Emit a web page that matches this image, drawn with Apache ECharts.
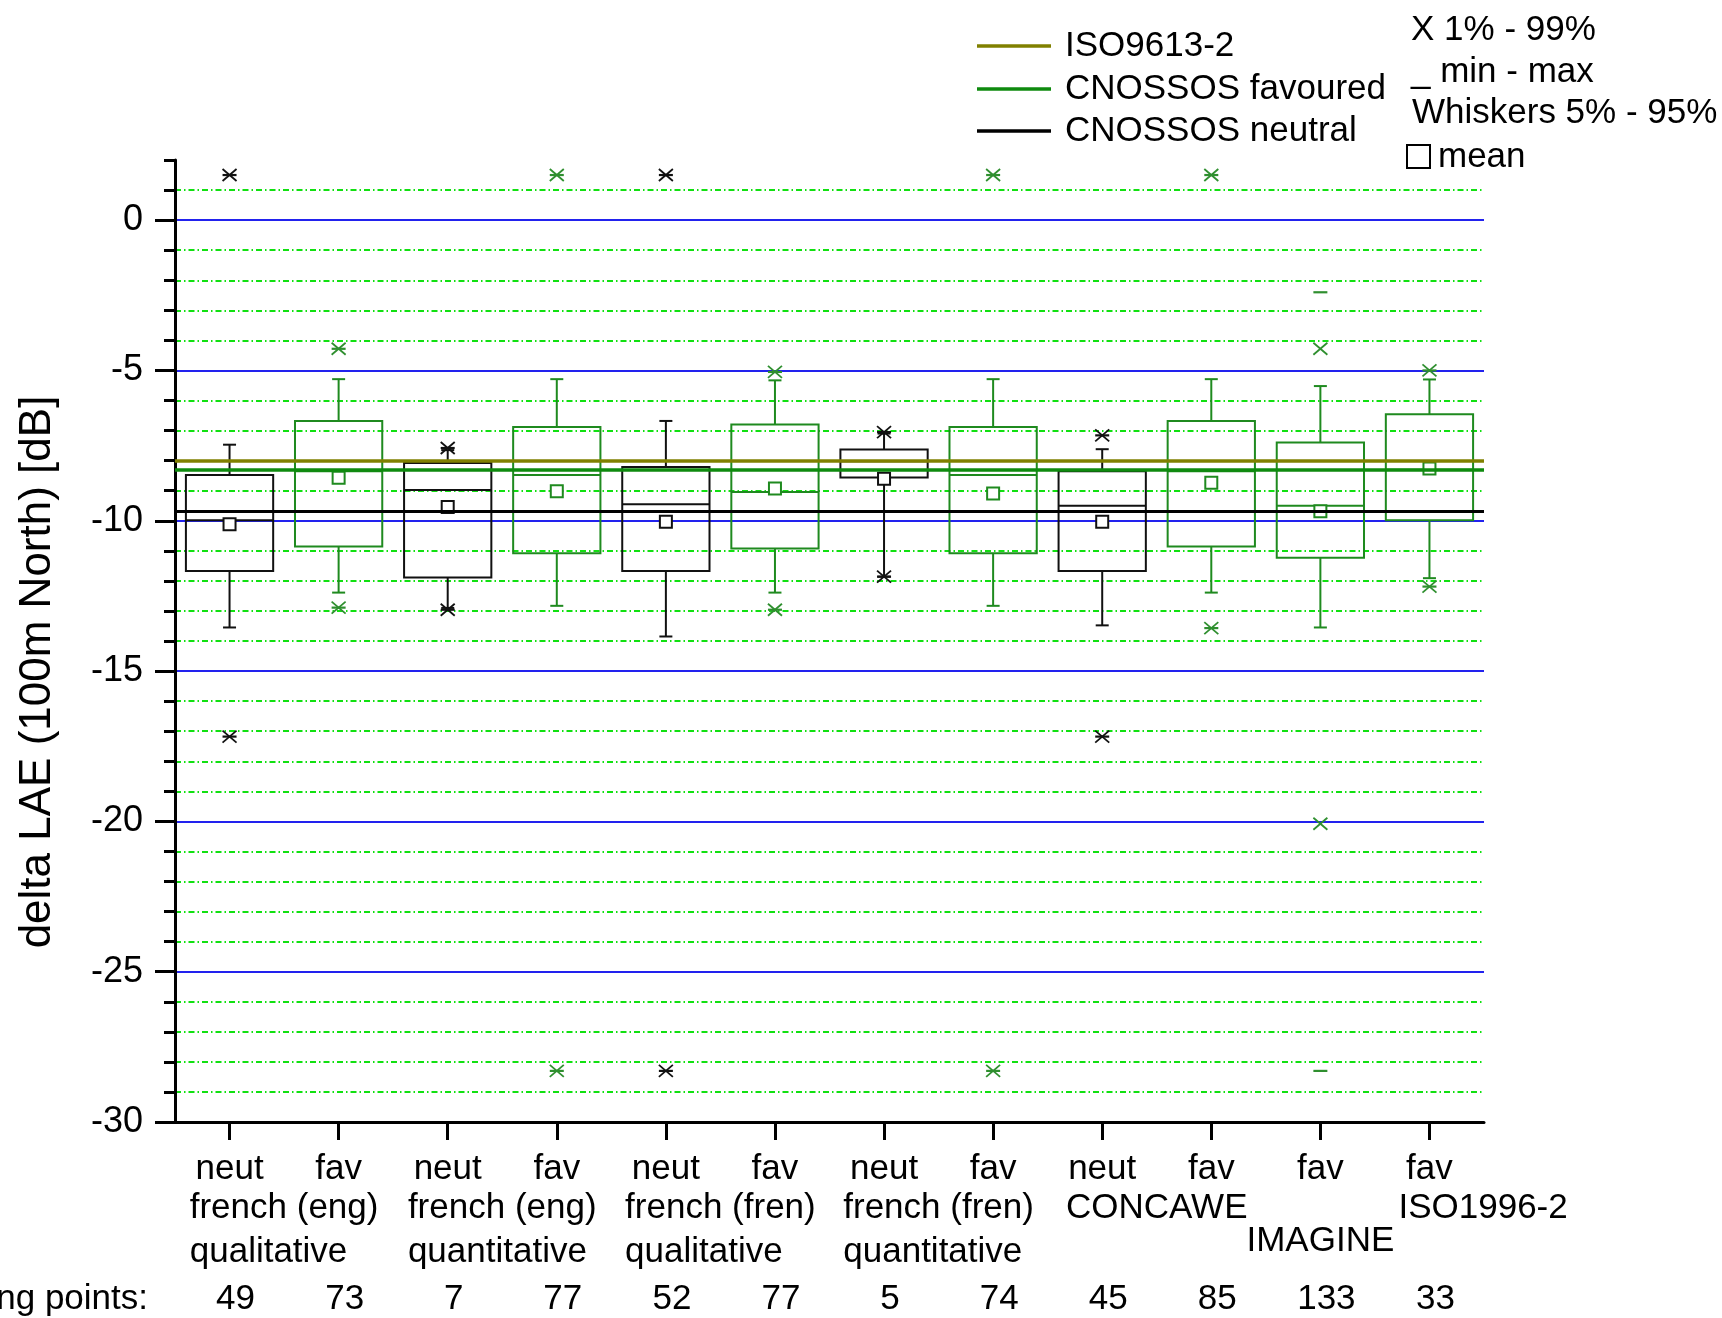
<!DOCTYPE html>
<html>
<head>
<meta charset="utf-8">
<script src="https://cdn.jsdelivr.net/npm/echarts@6/dist/echarts.min.js"></script>
<style>
html,body{margin:0;padding:0;background:#fff;}
#chart{width:1722px;height:1318px;}
</style>
</head>
<body>
<div id="chart"></div>
<script>
// ---------- data ----------
const categories = ['neut','fav','neut','fav','neut','fav','neut','fav','neut','fav','fav','fav'];
const groups = [
  {from:0, to:1, line1:'french (eng)', line2:'qualitative'},
  {from:2, to:3, line1:'french (eng)', line2:'quantitative'},
  {from:4, to:5, line1:'french (fren)', line2:'qualitative'},
  {from:6, to:7, line1:'french (fren)', line2:'quantitative'},
  {from:8, to:9, line1:'CONCAWE', line2:''}
];
const counts = [49, 73, 7, 77, 52, 77, 5, 74, 45, 85, 133, 33];
const p5     = [-13.55,-12.39,-12.90,-12.83,-13.85,-12.39,-11.86,-12.83,-13.48,-12.39,-13.55,-11.91];
const q1     = [-11.67,-10.86,-11.89,-11.08,-11.67,-10.92, -8.56,-11.08,-11.67,-10.86,-11.23, -9.98];
const median = [ -9.98, -8.35, -8.98, -8.48, -9.45, -9.04, -8.02, -8.48, -9.50, -8.35, -9.50, -8.30];
const q3     = [ -8.48, -6.68, -8.08, -6.88, -8.21, -6.80, -7.63, -6.88, -8.35, -6.68, -7.40, -6.46];
const p95    = [ -7.47, -5.29, -7.65, -5.29, -6.68, -5.33, -7.10, -5.29, -7.62, -5.29, -5.52, -5.30];
const mean   = [-10.12, -8.57, -9.54, -9.02,-10.03, -8.93, -8.60, -9.09,-10.03, -8.74, -9.68, -8.26];
const p1     = [-17.18,-12.89,-12.96,-28.30,-28.30,-12.96,-11.86,-28.30,-17.18,-13.57,-20.08,-12.19];
const p99    = [  1.50, -4.28, -7.58,  1.50,  1.50, -5.05, -7.05,  1.50, -7.16,  1.50, -4.28, -5.00];
const minV   = [-17.18,-12.89,-12.96,-28.30,-28.30,-12.96,-11.86,-28.30,-17.18,-13.57,-28.30,-12.19];
const maxV   = [  1.50, -4.28, -7.58,  1.50,  1.50, -5.05, -7.05,  1.50, -7.16,  1.50, -2.40, -5.00];
const refNames  = ['ISO9613-2', 'CNOSSOS favoured', 'CNOSSOS neutral'];
const refValues = [-8.02, -8.30, -9.67];
const yTickLabels = [-30, -25, -20, -15, -10, -5, 0];

// ---------- styles ----------
const FONT = '"Liberation Sans", Arial, Helvetica, sans-serif';
const BLACK = '#111111';
const GREEN = '#1f8a1f';
const GREEN_MK = '#2f8f2f';
const refColors = ['#808000', '#0e8a0e', '#000000'];

const boxData = categories.map((c, i) => [i, p5[i], q1[i], median[i], q3[i], p95[i], mean[i], p1[i], p99[i], minV[i], maxV[i]]);

function renderBox(params, api) {
  const i = api.value(0);
  const color = categories[i] === 'neut' ? BLACK : GREEN;
  const mk = categories[i] === 'neut' ? BLACK : GREEN_MK;
  const x = api.coord([i, 0])[0];
  const bw = api.size([1, 0])[0] * 0.8;
  const y = k => api.coord([i, api.value(k)])[1];
  const yP5 = y(1), yQ1 = y(2), yMed = y(3), yQ3 = y(4), yP95 = y(5), yMean = y(6);
  const yP1 = y(7), yP99 = y(8), yMin = y(9), yMax = y(10);
  const cap = 6.5, ms = 6, xs = 7, xh = 6;
  const ch = [];
  const line = (x1, y1, x2, y2, col, w) => ch.push({type: 'line', shape: {x1, y1, x2, y2}, style: {stroke: col, lineWidth: w}});
  line(x, yQ3, x, yP95, color, 2);
  line(x, yQ1, x, yP5, color, 2);
  line(x - cap, yP95, x + cap, yP95, color, 2);
  line(x - cap, yP5, x + cap, yP5, color, 2);
  ch.push({type: 'rect', shape: {x: x - bw / 2, y: yQ3, width: bw, height: yQ1 - yQ3}, style: {fill: 'none', stroke: color, lineWidth: 2}});
  line(x - bw / 2, yMed, x + bw / 2, yMed, color, 2);
  ch.push({type: 'rect', shape: {x: x - ms, y: yMean - ms, width: 2 * ms, height: 2 * ms}, style: {fill: '#fff', stroke: color, lineWidth: 2}});
  [yP1, yP99].forEach(yy => {
    line(x - xs, yy - xh, x + xs, yy + xh, mk, 1.8);
    line(x - xs, yy + xh, x + xs, yy - xh, mk, 1.8);
  });
  [yMin, yMax].forEach(yy => line(x - 7, yy, x + 7, yy, mk, 2.2));
  return {type: 'group', children: ch};
}

const chart = echarts.init(document.getElementById('chart'), null, {renderer: 'canvas'});

const option = {
  backgroundColor: '#ffffff',
  animation: false,
  textStyle: {fontFamily: FONT},
  grid: {left: 175, right: 238, top: 160, bottom: 196, containLabel: false},
  xAxis: {
    type: 'category',
    data: categories,
    position: 'bottom',
    boundaryGap: true,
    axisLine: {show: true, onZero: false, lineStyle: {color: '#000', width: 3}},
    axisTick: {show: true, alignWithLabel: true, length: 18, lineStyle: {color: '#000', width: 3}},
    axisLabel: {interval: 0, margin: 30, fontSize: 35, color: '#000', fontFamily: FONT},
    splitLine: {show: false}
  },
  yAxis: [
    {
      type: 'value', position: 'left', min: -30, max: 2, interval: 5,
      axisLine: {show: true, onZero: false, lineStyle: {color: '#000', width: 3}},
      axisTick: {show: true, length: 20, customValues: yTickLabels, lineStyle: {color: '#000', width: 3}},
      axisLabel: {show: true, margin: 32, fontSize: 36, color: '#000', fontFamily: FONT, customValues: yTickLabels,
        formatter: v => (v % 5 === 0 && v <= 0 ? String(v) : '')},
      splitLine: {show: true, showMinLine: false, showMaxLine: true, lineStyle: {color: '#2222ee', width: 2, type: 'solid'}}
    },
    {
      type: 'value', position: 'left', min: -30, max: 2, interval: 1,
      axisLine: {show: false, onZero: false},
      axisTick: {show: true, length: 11, lineStyle: {color: '#000', width: 3}},
      axisLabel: {show: false},
      splitLine: {show: true, showMinLine: true, showMaxLine: false,
        lineStyle: {color: ['rgba(0,0,0,0)', '#11e011', '#11e011', '#11e011', '#11e011'], width: 1.8, type: [6, 3, 1.5, 3]}}
    }
  ],
  series: [
    {
      type: 'custom', name: 'boxes', xAxisIndex: 0, yAxisIndex: 0, z: 2,
      renderItem: renderBox,
      encode: {x: 0, y: [1, 2, 3, 4, 5, 6, 7, 8, 9, 10]},
      data: boxData
    },
    {
      type: 'line', name: 'ref', xAxisIndex: 0, yAxisIndex: 0, z: 5, data: [],
      markLine: {
        silent: true, symbol: ['none', 'none'], label: {show: false}, animation: false,
        data: refValues.map((v, k) => ({yAxis: v, lineStyle: {color: refColors[k], width: k === 2 ? 3.2 : 3.6, type: 'solid'}}))
      }
    }
  ]
};
chart.setOption(option);

// ---------- text / legend graphics, placed from the axis scale ----------
const px = i => chart.convertToPixel({xAxisIndex: 0}, i);
const T = (text, x, y, size, align) => ({
  type: 'text', z: 100, silent: true,
  style: {text, x, y, fill: '#000', fontSize: size, fontFamily: FONT, align: align || 'center', verticalAlign: 'middle'}
});
const measure = (txt, size) => {
  const c = document.createElement('canvas').getContext('2d');
  c.font = size + 'px ' + FONT;
  return c.measureText(txt).width;
};
const yRow2 = 1208, yRow3 = 1252, yCount = 1299;
const g = [];
groups.forEach(gr => {
  const mid = (px(gr.from) + px(gr.to)) / 2;
  g.push(T(gr.line1, mid, yRow2, 35, 'center'));
  if (gr.line2) g.push(T(gr.line2, mid - measure(gr.line1, 35) / 2, yRow3, 35, 'left'));
});
g.push(T('IMAGINE', px(10), 1241, 35, 'center'));
g.push(T('ISO1996-2', px(11) - 31, yRow2, 35, 'left'));
counts.forEach((n, i) => g.push(T(String(n), px(i) + 6, yCount, 35, 'center')));
g.push(T('Remaining points:', 148, yCount, 35, 'right'));
g.push({type: 'text', z: 100, silent: true, rotation: Math.PI / 2, x: 38, y: 672,
  style: {text: 'delta LAE (100m North) [dB]', x: 0, y: 0, fill: '#000', fontSize: 44, fontFamily: FONT, align: 'center', verticalAlign: 'middle'}});
const legY = [46, 89, 131];
refNames.forEach((nm, k) => {
  g.push({type: 'line', z: 100, silent: true, shape: {x1: 977, y1: legY[k], x2: 1051, y2: legY[k]}, style: {stroke: refColors[k], lineWidth: 3.5}});
  g.push(T(nm, 1065, legY[k], 35, 'left'));
});
g.push(T('X 1% - 99%', 1411, 30, 35, 'left'));
g.push(T('_ min - max', 1411, 72, 35, 'left'));
g.push(T('Whiskers 5% - 95%', 1412, 113, 35, 'left'));
g.push({type: 'rect', z: 100, silent: true, shape: {x: 1407, y: 145, width: 23, height: 23}, style: {fill: 'none', stroke: '#000', lineWidth: 2}});
g.push(T('mean', 1438, 157, 35, 'left'));
chart.setOption({graphic: g});
</script>
</body>
</html>
